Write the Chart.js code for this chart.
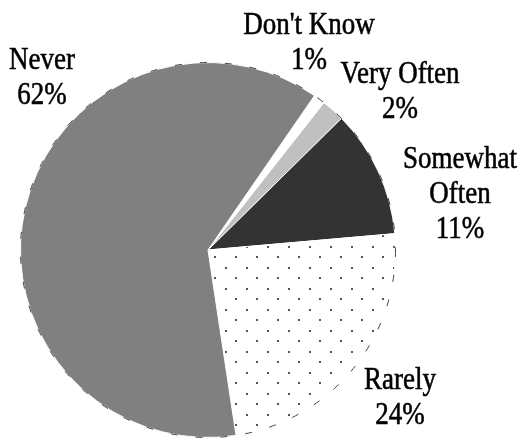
<!DOCTYPE html>
<html>
<head>
<meta charset="utf-8">
<script src="https://cdn.jsdelivr.net/npm/chart.js@4"></script>
<style>
  html, body { margin: 0; padding: 0; background: #fff; }
  #wrap { width: 532px; height: 441px; }
</style>
</head>
<body>
<div id="wrap"><canvas id="pie" width="532" height="441"></canvas></div>
<script>
const labels = ["Don't Know", 'Very Often', 'Somewhat Often', 'Rarely', 'Never'];
const values = [1, 2, 11, 24, 62];
// label lines as printed next to each slice
const labelLines = [["Don't Know"], ['Very Often'], ['Somewhat', 'Often'], ['Rarely'], ['Never']];
// first baseline of each label block, relative to the pie centre (px)
const labelOffset = [[101, -216], [192, -167], [252, -82], [192, 139], [-166, -181]];

// white tile with staggered grey dots for the "Rarely" slice
function dotPattern() {
  const c = document.createElement('canvas');
  c.width = 21; c.height = 21;
  const g = c.getContext('2d');
  g.fillStyle = '#fff';
  g.fillRect(0, 0, 21, 21);
  g.fillStyle = '#555';
  g.fillRect(4, 4, 2, 2);
  g.fillRect(15, 15, 2, 2);
  return g.createPattern(c, 'repeat');
}

const colors = ['#ffffff', '#c0c0c0', '#333333', dotPattern(), '#808080'];

const outlinePlugin = {
  id: 'outline',
  afterDatasetsDraw(chart) {
    const arc = chart.getDatasetMeta(0).data[0];
    const ctx = chart.ctx;
    ctx.save();
    ctx.setLineDash([7, 18]);
    ctx.strokeStyle = '#444';
    ctx.lineWidth = 1;
    ctx.beginPath();
    ctx.arc(arc.x, arc.y, arc.outerRadius, 0, Math.PI * 2);
    ctx.stroke();
    ctx.restore();
  }
};

const labelPlugin = {
  id: 'sliceLabels',
  afterDraw(chart) {
    const arc = chart.getDatasetMeta(0).data[0];
    const ctx = chart.ctx;
    const lh = 35;
    ctx.save();
    ctx.fillStyle = '#000';
    ctx.strokeStyle = '#000';
    ctx.lineWidth = 0.5;
    ctx.font = '27px "Liberation Serif", "DejaVu Serif", serif';
    ctx.textAlign = 'center';
    ctx.textBaseline = 'alphabetic';
    labels.forEach((name, i) => {
      const lines = labelLines[i].concat([values[i] + '%']);
      const cx = arc.x + labelOffset[i][0];
      const top = arc.y + labelOffset[i][1];
      lines.forEach((t, k) => {
        ctx.save();
        ctx.translate(cx, top + k * lh);
        ctx.scale(1, 1.15);
        ctx.fillText(t, 0, 0);
        ctx.strokeText(t, 0, 0);
        ctx.restore();
      });
    });
    ctx.restore();
  }
};

new Chart(document.getElementById('pie'), {
  type: 'pie',
  data: {
    labels,
    datasets: [{
      data: values,
      backgroundColor: colors,
      borderColor: '#ffffff',
      borderWidth: 1,
    }]
  },
  options: {
    responsive: false,
    animation: false,
    rotation: 34.6,
    layout: { padding: { top: 62, bottom: 3, left: 20, right: 136 } },
    plugins: { legend: { display: false }, tooltip: { enabled: false } }
  },
  plugins: [outlinePlugin, labelPlugin]
});
</script>
</body>
</html>
